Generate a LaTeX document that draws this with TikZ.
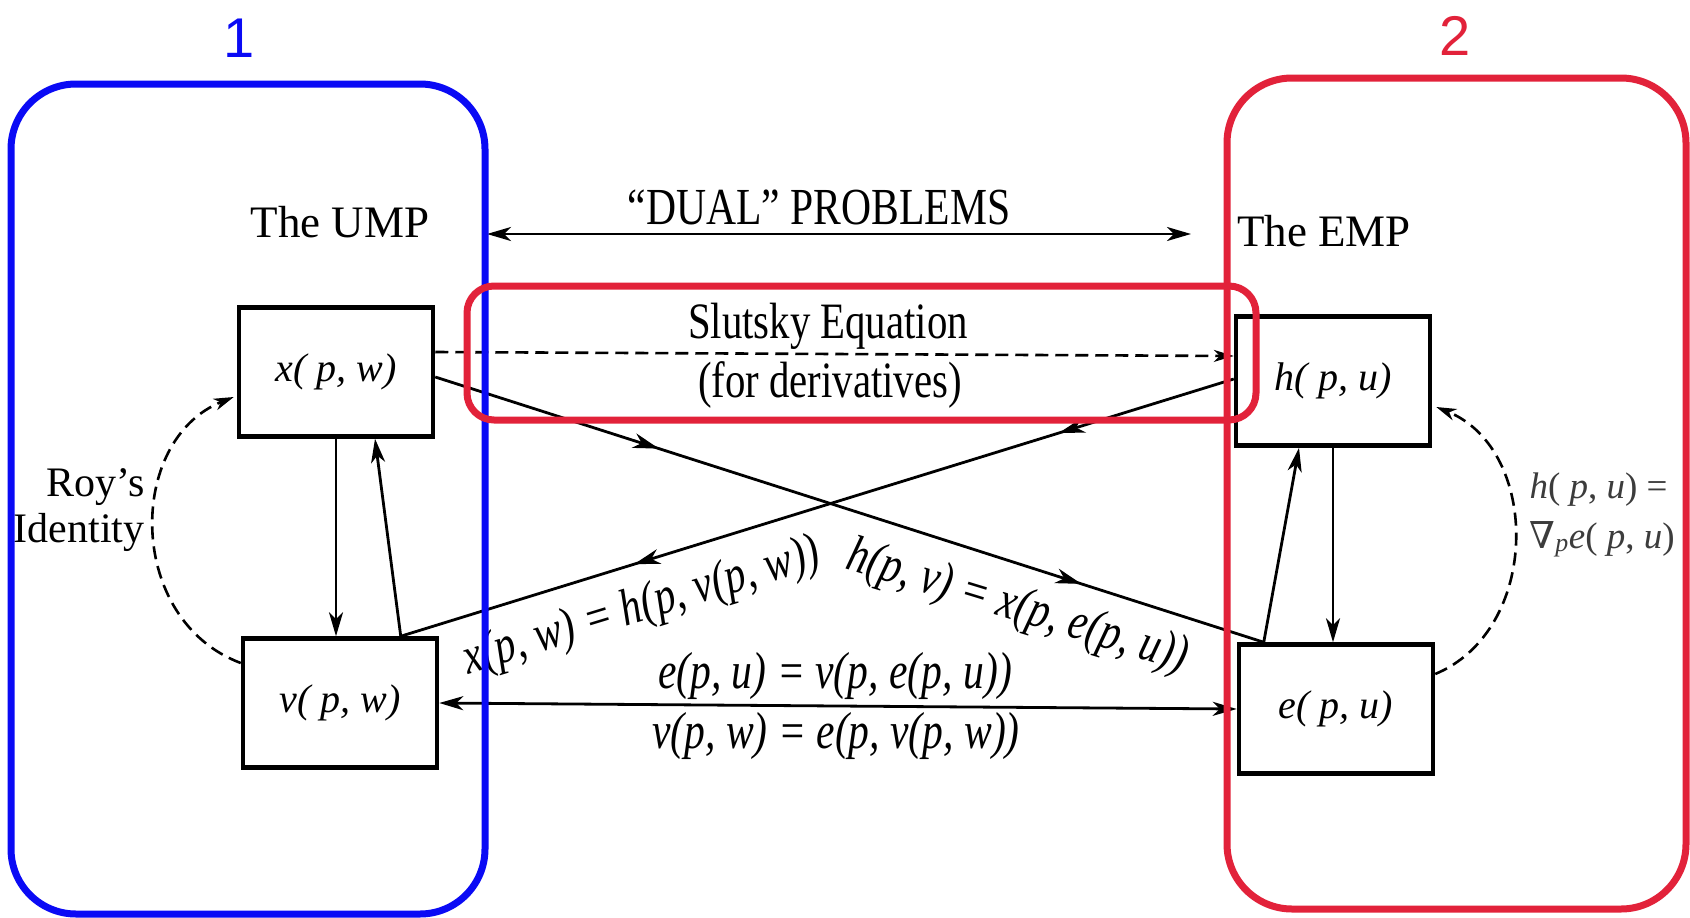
\documentclass[tikz,border=0pt]{standalone}
\usepackage{fontspec}
\setmainfont{Liberation Serif}
\newfontfamily\condf[FakeStretch=0.8]{Liberation Serif}
\newfontfamily\sansf{Liberation Sans}
\newfontfamily\symf{DejaVu Serif}
\usetikzlibrary{arrows.meta,decorations.markings,calc}
\definecolor{myblue}{RGB}{10,10,245}
\definecolor{myred}{RGB}{226,34,58}
\definecolor{labgray}{RGB}{60,60,60}
\tikzset{
  fbox/.style={draw, line width=4.5pt, minimum width=194pt, minimum height=129pt,
    font=\fontsize{40}{44}\selectfont\itshape},
  conn/.style={line width=2.8pt, -{Stealth[length=24pt,width=14pt,inset=7pt]}},
  dconn/.style={line width=2.8pt, {Stealth[length=24pt,width=14pt,inset=7pt]}-{Stealth[length=24pt,width=14pt,inset=7pt]}},
  dashconn/.style={line width=2.6pt, dash pattern=on 13pt off 7pt, -{Stealth[length=20pt,width=12pt,inset=6pt]}},
  midarrows/.style 2 args={line width=2.8pt, postaction={decorate, decoration={markings,
    mark=at position #1 with {\arrow{Stealth[length=26pt,width=15pt,inset=8pt]}},
    mark=at position #2 with {\arrow{Stealth[length=26pt,width=15pt,inset=8pt]}}}}},
  title/.style={font=\fontsize{45}{48}\selectfont},
  cond/.style={font=\fontsize{52}{56}\selectfont\condf},
  eqn/.style={inner sep=0pt, font=\fontsize{52}{56}\selectfont\condf\itshape},
  numlab/.style={font=\fontsize{56}{60}\selectfont\sansf},
  frame/.style={line width=7pt, rounded corners=#1}
}
\begin{document}
\begin{tikzpicture}[x=1pt,y=-1pt]
\useasboundingbox[fill=white] (0,0) rectangle (1690,918);

% boxes
\node[fbox] (xn) at (336,372) {x( p, w)};
\node[fbox] (vn) at (340,703) {v( p, w)};
\node[fbox] (hn) at (1333,381) {h( p, u)};
\node[fbox] (en) at (1336,709) {e( p, u)};

% titles
\node[title] (ump) at (340,222) {The UMP};
\node[title] (emp) at (1324,231) {The EMP};
\node[cond] (dual) at (819,207) {“DUAL” PROBLEMS};
\coordinate (dl) at (487,234);
\coordinate (dr) at (1191,234);
\draw[dconn] (dl) -- (dr);

% Slutsky
\node[cond, font=\fontsize{51}{54}\selectfont\condf] (slu) at (828,326) {Slutsky Equation};
\node[cond, font=\fontsize{51}{54}\selectfont\condf] (sld) at (830,385) {(for derivatives)};
\draw[dashconn] ($(xn.east)+(0,-20)$) -- ($(hn.west)+(0,-25)$);

% anchor points
\coordinate (vtop) at ($(vn.north west)+(160,0)$);
\coordinate (etop) at ($(en.north west)+(27,0)$);

% crossing lines
\draw[midarrows={0.27}{0.78}] ($(xn.east)+(0,5)$) -- (etop);
\draw[midarrows={0.21}{0.72}] ($(hn.west)+(0,-2)$) -- (vtop);

% verticals
\draw[conn] (xn.south) -- (xn.south |- vn.north);
\draw[conn] (vtop) -- ($(xn.south)+(39,0)$);
\draw[conn] (hn.south) -- (hn.south |- en.north);
\draw[conn] (etop) -- ($(hn.south)+(-34,0)$);

% bottom double arrow
\draw[dconn] (vn.east) -- (en.west);
\node[eqn] (eq1) at (835,676) {e(p, u) = v(p, e(p, u))};
\node[eqn] (eq2) at (836,736) {v(p, w) = e(p, v(p, w))};

% rotated labels
\node[eqn, rotate=17] (eq3) at (642,608) {x(p, w) = h(p, v(p, w))};
\node[eqn, rotate=-17] (eq4) at (1017,608) {h(p, v) = x(p, e(p, u))};

% Roy's identity
\draw[dashconn] ($(vn.west)+(0,-40)$) .. controls (126,620) and (126,440) .. ($(xn.west)+(-3,25)$);
\node[font=\fontsize{42}{46}\selectfont, align=right, anchor=east] (roy) at (148,510) {Roy’s\\Identity};

% right dashed
\draw[dashconn] ($(en.east)+(0,-35)$) .. controls (1541,630) and (1541,450) .. ($(hn.east)+(4,26)$);
\node[font=\fontsize{37}{50}\selectfont, text=labgray, align=left, anchor=west] (grad) at (1526,515)
  {\textit{h}( \textit{p}, \textit{u}) =\\{\symf ∇}\textsubscript{\textit{p}}\textit{e}( \textit{p}, \textit{u})};

% colored frames
\draw[myblue, frame=65pt] (11,84) rectangle (485,914);
\draw[myred, frame=65pt] (1227,78) rectangle (1686,909);
\draw[myred, frame=27pt] (467,286) rectangle (1256,420);
\node[numlab, text=myblue] (one) at (239,38) {1};
\node[numlab, text=myred] (two) at (1455,36) {2};
\end{tikzpicture}
\end{document}
